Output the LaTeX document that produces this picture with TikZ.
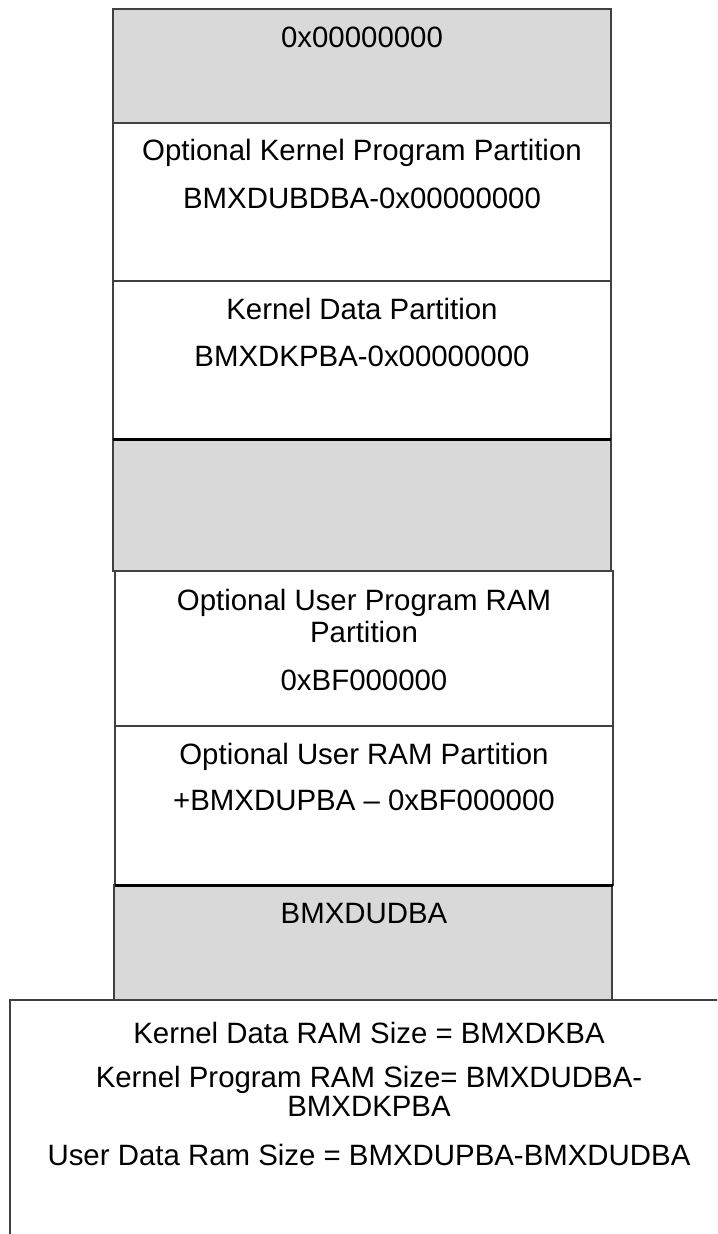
\documentclass[tikz,border=0pt]{standalone}
\usepackage{fontspec}
\setmainfont{Liberation Sans}

\begin{document}
\begin{tikzpicture}[x=0.5pt, y=-0.5pt,
        region/.style=
            {
                draw = black!75,
                line width = 0.75pt,
                fill = white
            },
        free/.style=
            {
                region,
                fill = black!15
            },
        border/.style=
            {
                draw = black,
                line width = 1.5pt
            },
        caption/.style=
            {
                anchor = base,
                inner sep = 0pt,
                align = center,
                font = \fontsize{14.7}{16}\selectfont
            }
    ]

    \useasboundingbox (0,0) rectangle (717,1234);
    \clip (0,0) rectangle (717,1234);

    % upper part of the map
    \draw[free]   (113,9)   rectangle (611,123);
    \draw[region] (113,123) rectangle (611,281);
    \draw[region] (113,281) rectangle (611,440);
    \draw[free]   (113,440) rectangle (611,571);

    % lower part of the map
    \draw[region] (115,571) rectangle (613,726);
    \draw[region] (115,726) rectangle (613,885);
    \draw[free]   (114,885) rectangle (612,1000);
    \draw[region] (10,1000) rectangle (728,1260);

    \draw[border] (113,440) -- (611,440);
    \draw[border] (115,885) -- (613,885);

    \draw (362,48)  node[caption] (base) {0x00000000};

    \draw (362,161) node[caption] (kprog) {Optional Kernel Program Partition};
    \draw (362,209) node[caption] (kprogaddr) {BMXDUBDBA-0x00000000};

    \draw (362,320) node[caption] (kdata) {Kernel Data Partition};
    \draw (362,367) node[caption] (kdataaddr) {BMXDKPBA-0x00000000};

    % base anchor of a wrapped text sits on its last line
    \draw (364,642) node[caption] (uprog) {Optional User Program RAM\\Partition};
    \draw (364,690) node[caption] (uprogaddr) {0xBF000000};

    \draw (364,764) node[caption] (udata) {Optional User RAM Partition};
    \draw (364,810) node[caption] (udataaddr) {+BMXDUPBA \textendash{} 0xBF000000};

    \draw (364,923) node[caption] (udba) {BMXDUDBA};

    \draw (369,1043) node[caption] (kdsize) {Kernel Data RAM Size = BMXDKBA};
    \draw (369,1116) node[caption, font=\fontsize{14.7}{13}\selectfont] (kpsize)
        {Kernel Program RAM Size= BMXDUDBA-\\BMXDKPBA};
    \draw (369,1165) node[caption] (udsize) {User Data Ram Size = BMXDUPBA-BMXDUDBA};

\end{tikzpicture}
\end{document}
